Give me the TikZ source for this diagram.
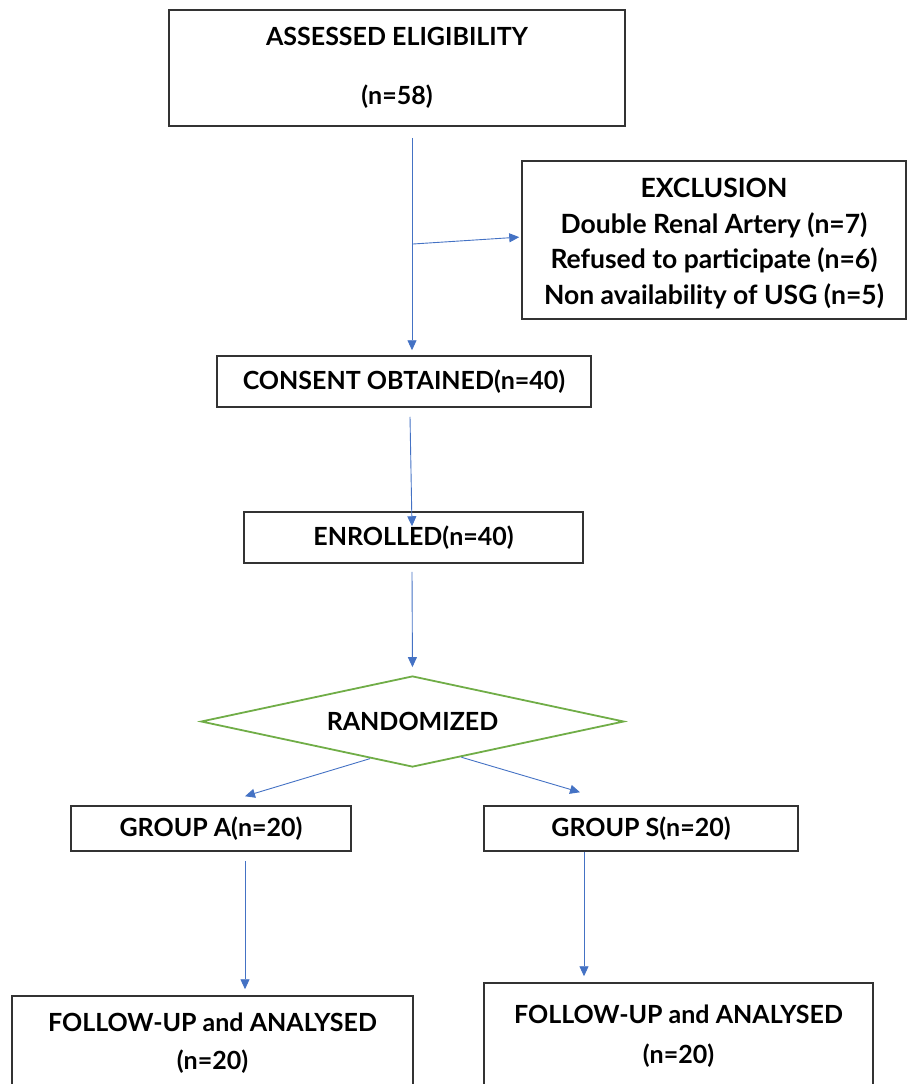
\documentclass[tikz,border=0pt]{standalone}
\usepackage{fontspec}
\setmainfont{Lato}
\usetikzlibrary{arrows.meta,positioning,calc,shapes.geometric}
\definecolor{flowblue}{HTML}{4472C4}
\definecolor{flowgreen}{HTML}{70AD47}
\definecolor{boxgray}{HTML}{333333}

\begin{document}
\begin{tikzpicture}[
    x=1pt, y=-1pt,
    font=\fontsize{25}{29}\selectfont\bfseries,
    >={Triangle[length=10pt, width=9pt]},
    stepbox/.style={draw=boxgray, line width=1.5pt, rectangle, inner sep=0pt,
                    align=center, text=black},
    decide/.style={draw=flowgreen, line width=1.8pt, diamond, aspect=4.65,
                   minimum width=423pt, minimum height=91pt, inner sep=0pt},
    flow/.style={->, flowblue, line width=0.9pt},
]
    \useasboundingbox (0,0) rectangle (907,1084);

    % ============================================================
    %  BOXES
    % ============================================================
    \node[stepbox, minimum width=456pt, minimum height=116pt] (assess) at (397,68)
        {ASSESSED ELIGIBILITY\\[30pt](n=58)};
    % exclusion box: outline and its list of reasons
    \node[stepbox, minimum width=384pt, minimum height=158pt] (excl) at (714,240) {};
    \node[align=center, font=\fontsize{26.5}{35.5}\selectfont\bfseries]
        (excltext) at (714,243.5)
        {EXCLUSION\\Double Renal Artery (n=7)\\Refused to participate (n=6)\\Non availability of USG (n=5)};
    \node[stepbox, minimum width=374pt, minimum height=51pt] (consent) at (404,381.5)
        {CONSENT OBTAINED(n=40)};
    \node[stepbox, minimum width=339pt, minimum height=51pt] (enrol) at (413.5,537.5)
        {ENROLLED(n=40)};

    % randomisation step
    \node[decide] (rand) at (412.5,721.5) {RANDOMIZED};

    % the two arms
    \node[stepbox, minimum width=280pt, minimum height=45pt] (grpa) at (211,828.5)
        {GROUP A(n=20)};
    \node[stepbox, minimum width=314pt, minimum height=45pt] (grps) at (641,828.5)
        {GROUP S(n=20)};
    \node[stepbox, minimum width=401pt, minimum height=94pt,
          font=\fontsize{25}{38}\selectfont\bfseries] (follA) at (212.5,1043)
        {FOLLOW-UP and ANALYSED\\(n=20)};
    \node[stepbox, minimum width=389pt, minimum height=107pt,
          font=\fontsize{25}{40}\selectfont\bfseries] (follS) at (678.5,1036.5)
        {FOLLOW-UP and ANALYSED\\(n=20)};

    % ============================================================
    %  CONNECTORS
    % ============================================================
    \coordinate (spine) at (412,0);
    \coordinate (split) at (413,244);
    \coordinate (acol)  at (245,0);
    \coordinate (scol)  at (580,0);
    \coordinate (scol2) at (584,0);

    \draw[flow, shorten >=5pt] ([yshift=-11pt]assess.south -| spine)
        -- (consent.north -| spine);
    \draw[flow, shorten >=2pt] (split) -- ([yshift=3pt]excl.west);
    \draw[flow] ([xshift=-2pt,yshift=-9pt]consent.south -| spine)
        -- ([yshift=-15pt]enrol.north -| spine);
    \draw[flow, shorten >=8pt] ([yshift=-8pt]enrol.south -| spine) -- (rand.north);

    % split into the two groups
    \draw[flow] ($(rand.west)!0.8!(rand.south)$) -- ([yshift=9pt]grpa.north -| acol);
    \draw[flow] ($(rand.south)!0.23!(rand.east)$) -- ([yshift=13pt]grps.north -| scol);

    \draw[flow] ([yshift=-9pt]grpa.south -| acol) -- ([yshift=6pt]follA.north -| acol);
    \draw[flow] (grps.south -| scol2) -- ([yshift=6pt]follS.north -| scol2);

\end{tikzpicture}
\end{document}
